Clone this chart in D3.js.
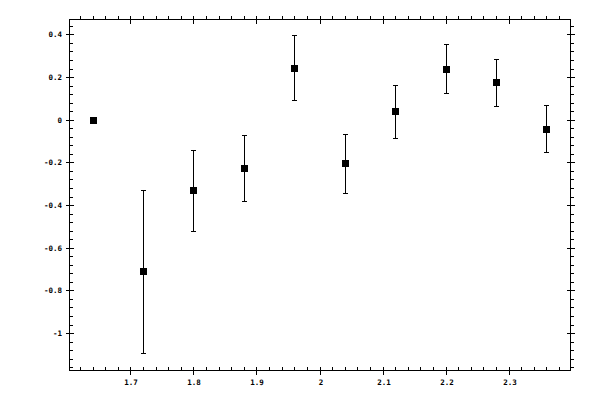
<!DOCTYPE html>
<html>
<head>
<meta charset="utf-8">
<script src="https://cdn.jsdelivr.net/npm/d3@7"></script>
<style>
  html, body { margin: 0; padding: 0; background: #fff; }
  svg { display: block; }
  text { font-family: "DejaVu Sans Mono", monospace; font-size: 7.5px; font-weight: bold; fill: #000; }
</style>
</head>
<body>
<svg id="chart" width="600" height="400"></svg>
<script>
// ---- data ----
const xValues = [1.64, 1.72, 1.80, 1.88, 1.96, 2.04, 2.12, 2.20, 2.28, 2.36];
const yValues = [0, -0.707, -0.330, -0.226, 0.242, -0.203, 0.041, 0.237, 0.177, -0.044];
const yLow    = [0, -1.093, -0.521, -0.381, 0.092, -0.343, -0.086, 0.125, 0.064, -0.151];
const yHigh   = [0, -0.331, -0.142, -0.072, 0.397, -0.067, 0.163, 0.355, 0.284, 0.069];
const xDomain = [1.6025, 2.3975];
const yDomain = [-1.173, 0.472];
const xMajorTicks = [1.7, 1.8, 1.9, 2.0, 2.1, 2.2, 2.3];
const xTickLabels = ["1.7", "1.8", "1.9", "2", "2.1", "2.2", "2.3"];
const yMajorTicks = [0.4, 0.2, 0, -0.2, -0.4, -0.6, -0.8, -1];
const yTickLabels = ["0.4", "0.2", "0", "-0.2", "-0.4", "-0.6", "-0.8", "-1"];

// ---- layout ----
const L = 69.5, R = 570.5, T = 19.5, B = 370.5;
const svg = d3.select("#chart");
const x = d3.scaleLinear().domain(xDomain).range([L, R]);
const y = d3.scaleLinear().domain(yDomain).range([B, T]);

const snap = v => Math.round(v - 0.5) + 0.5;

// minor tick positions
const xMinor = d3.range(80, 121).map(i => i * 0.02).filter(v => v >= xDomain[0] && v <= xDomain[1]);
const yMinor = d3.range(-30, 13).map(i => i * 0.04).filter(v => v >= yDomain[0] && v <= yDomain[1]);
const isMajor = (v, step) => Math.abs(v / step - Math.round(v / step)) < 1e-6;

const g = svg.append("g").attr("stroke", "#000").attr("stroke-width", 1)
  .attr("shape-rendering", "crispEdges");

// frame
g.append("rect").attr("x", L).attr("y", T).attr("width", R - L).attr("height", B - T)
  .attr("fill", "none");

const minorLen = 3.5, majorLen = 4;
// x ticks (bottom & top)
xMinor.forEach(v => {
  const px = snap(x(v));
  if (isMajor(v, 0.1)) {
    g.append("line").attr("x1", px).attr("x2", px).attr("y1", B - majorLen).attr("y2", B + majorLen);
    g.append("line").attr("x1", px).attr("x2", px).attr("y1", T - majorLen).attr("y2", T + majorLen);
  } else {
    g.append("line").attr("x1", px).attr("x2", px).attr("y1", B - minorLen).attr("y2", B);
    g.append("line").attr("x1", px).attr("x2", px).attr("y1", T - minorLen).attr("y2", T);
  }
});
// y ticks (left & right)
yMinor.forEach(v => {
  const py = snap(y(v));
  if (isMajor(v, 0.2)) {
    g.append("line").attr("y1", py).attr("y2", py).attr("x1", L - majorLen).attr("x2", L + majorLen);
    g.append("line").attr("y1", py).attr("y2", py).attr("x1", R - majorLen).attr("x2", R + majorLen);
  } else {
    g.append("line").attr("y1", py).attr("y2", py).attr("x1", L).attr("x2", L + minorLen);
    g.append("line").attr("y1", py).attr("y2", py).attr("x1", R).attr("x2", R + minorLen);
  }
});

// tick labels
svg.append("g").selectAll("text").data(xMajorTicks).join("text")
  .attr("x", d => snap(x(d)) + 0.5)
  .attr("y", 385)
  .attr("text-anchor", "middle")
  .text((d, i) => xTickLabels[i]);

svg.append("g").selectAll("text").data(yMajorTicks).join("text")
  .attr("x", 62)
  .attr("y", d => snap(y(d)) + 2.8)
  .attr("text-anchor", "end")
  .text((d, i) => yTickLabels[i]);

// error bars
const eb = svg.append("g").attr("stroke", "#000").attr("stroke-width", 1)
  .attr("shape-rendering", "crispEdges");
xValues.forEach((xv, i) => {
  if (yLow[i] === yHigh[i]) return;
  const px = snap(x(xv));
  const y1 = snap(y(yLow[i])), y2 = snap(y(yHigh[i]));
  eb.append("line").attr("x1", px).attr("x2", px).attr("y1", y1).attr("y2", y2);
  eb.append("line").attr("x1", px - 2.5).attr("x2", px + 2.5).attr("y1", y1).attr("y2", y1);
  eb.append("line").attr("x1", px - 2.5).attr("x2", px + 2.5).attr("y1", y2).attr("y2", y2);
});

// markers
svg.append("g").selectAll("rect").data(xValues).join("rect")
  .attr("x", d => snap(x(d)) - 3.5)
  .attr("y", (d, i) => snap(y(yValues[i])) - 3.5)
  .attr("width", 7).attr("height", 7)
  .attr("fill", "#000")
  .attr("shape-rendering", "crispEdges");
</script>
</body>
</html>
